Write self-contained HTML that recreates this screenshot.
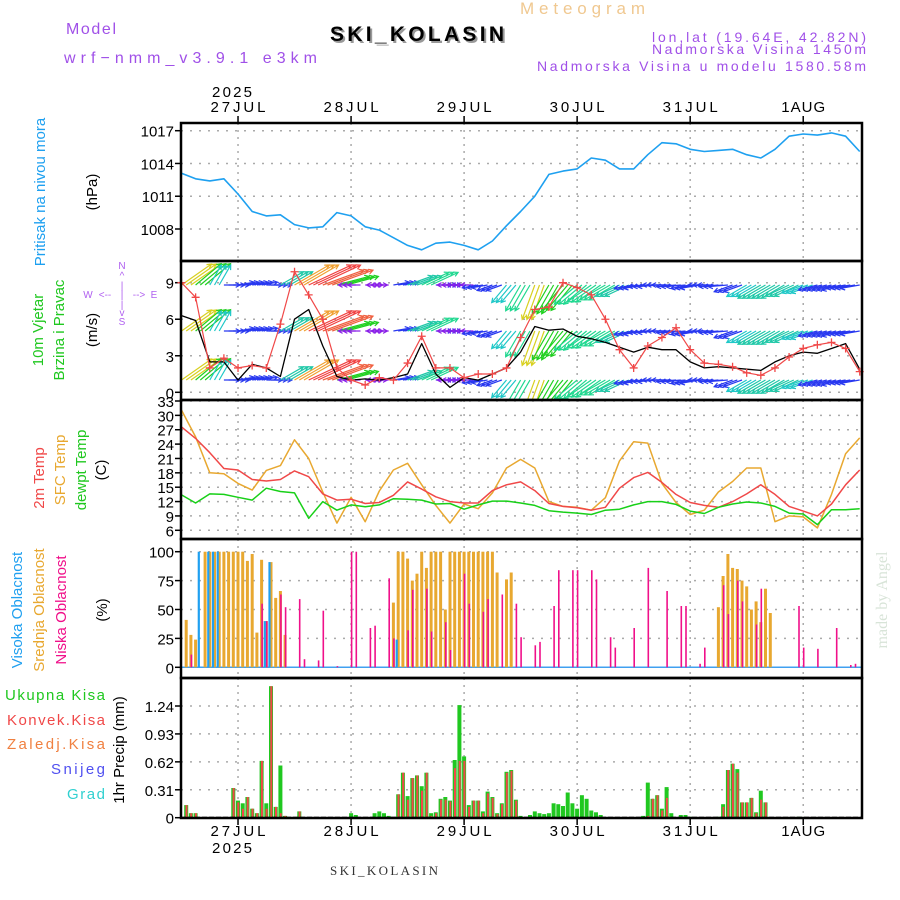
<!DOCTYPE html>
<html><head><meta charset="utf-8"><style>
html,body{margin:0;padding:0;background:#fff;}
svg{display:block;font-family:"Liberation Sans",sans-serif;}
</style></head><body>
<svg id="chart" width="900" height="900" viewBox="0 0 900 900" xmlns="http://www.w3.org/2000/svg">
<defs><clipPath id="windclip"><rect x="181" y="262" width="681" height="137"/></clipPath></defs>
<rect x="0" y="0" width="900" height="900" fill="#fff"/>
<text x="66" y="34" font-size="16" fill="#a050e8" textLength="50" lengthAdjust="spacing">Model</text>
<text x="64" y="63" font-size="16" fill="#a050e8" textLength="253" lengthAdjust="spacing">wrf−nmm_v3.9.1 e3km</text>
<text x="520" y="14" font-size="17" fill="#f0c890" textLength="125" lengthAdjust="spacing">Meteogram</text>
<text x="332" y="43" font-size="21" font-weight="bold" fill="#999" textLength="174" lengthAdjust="spacing">SKI_KOLASIN</text>
<text x="330" y="41" font-size="21" font-weight="bold" fill="#000" textLength="174" lengthAdjust="spacing">SKI_KOLASIN</text>
<text x="652" y="42" font-size="14" fill="#a050e8" textLength="214" lengthAdjust="spacing">lon,lat (19.64E, 42.82N)</text>
<text x="652" y="54" font-size="14" fill="#a050e8" textLength="214" lengthAdjust="spacing">Nadmorska Visina 1450m</text>
<text x="537" y="71" font-size="14" fill="#a050e8" textLength="329" lengthAdjust="spacing">Nadmorska Visina u modelu 1580.58m</text>
<text x="330" y="875" font-size="13" fill="#333" textLength="108" lengthAdjust="spacing" font-family="Liberation Serif, serif">SKI_KOLASIN</text>
<text transform="translate(887,600) rotate(-90)" font-size="16" fill="#d8e4d8" text-anchor="middle" font-family="Liberation Serif, serif">made by Angel</text>
<g id="layer"></g>
</svg>
<script>
// ---- data (3-hourly unless noted), hour 0 = 26JUL 12UTC ----
const dayLabels = ["27JUL","28JUL","29JUL","30JUL","31JUL","1AUG"];
const dayHours = [12,36,60,84,108,132];
const pressure = [1013.1,1012.6,1012.4,1012.6,1011.2,1009.6,1009.2,1009.3,1008.4,1008.1,1008.2,1009.5,1009.2,1008.2,1007.9,1007.2,1006.5,1006.1,1006.7,1006.8,1006.5,1006.1,1006.9,1008.3,1009.6,1011.0,1013.0,1013.3,1013.5,1014.5,1014.3,1013.5,1013.5,1014.8,1015.9,1015.8,1015.3,1015.1,1015.2,1015.3,1014.8,1014.5,1015.3,1016.5,1016.7,1016.6,1016.8,1016.5,1015.1];
const windSpeed = [6.3,5.9,2.5,2.5,1.0,2.3,2.0,1.3,6.0,6.8,3.8,1.3,1.0,1.1,1.0,1.2,1.5,4.0,1.5,0.4,1.2,1.0,1.5,2.0,3.3,5.4,5.1,5.2,4.6,4.4,4.1,3.7,3.3,3.7,3.5,3.5,2.5,2.0,2.1,2.0,1.9,1.8,2.5,3.0,3.3,3.2,3.6,4.0,1.9];
const windGust = [9.0,7.8,2.0,2.8,2.0,2.2,2.0,5.6,9.9,8.0,6.0,2.0,1.0,0.6,1.2,1.0,2.4,4.6,2.0,2.0,1.2,1.5,1.5,2.0,4.5,6.8,7.0,9.0,8.6,8.0,6.0,3.5,2.0,3.8,4.5,5.3,3.5,2.4,2.3,2.1,1.6,1.4,2.0,2.9,3.6,3.9,4.1,3.6,1.7];
const arrowDir = [35,40,60,0,10,10,0,30,30,25,20,15,180,0,180,10,20,25,0,180,180,190,200,230,240,250,240,230,220,215,210,205,190,185,180,185,190,180,185,200,210,210,210,205,200,195,195,190,190];
const arrowSpd = [9,8,5,3,3,3,3,6,10,12,11,8,2,2,2,3,6,7,3,2,2,3,3,5,7,9,8,8,7,7,7,6,4,4,4,4,4,3,4,4,5,6,6,6,5,4,4,4,4];
const temp2m = [27.6,25.2,22.2,18.9,18.6,16.6,16.3,16.6,18.4,17.2,13.6,12.3,12.5,11.6,11.8,13.3,16.1,14.6,13.0,12.0,11.7,11.7,14.3,15.5,16.1,14.3,11.6,11.0,10.7,10.2,10.8,14.8,17.0,18.1,16.0,13.5,11.8,11.2,10.8,12.0,13.6,15.5,13.5,11.0,10.0,9.0,11.5,15.5,18.6];
const tempSfc = [31.1,25.5,18.0,17.8,15.8,14.4,18.5,19.5,24.9,21.0,14.0,7.5,12.9,7.8,14.2,18.6,20.0,15.5,11.2,7.5,11.5,10.5,13.8,19.0,20.8,19.0,12.0,11.0,10.8,10.2,12.8,20.5,24.5,24.2,15.8,11.8,9.3,10.2,14.0,16.2,19.0,19.0,7.8,9.0,8.8,6.5,13.5,22.0,25.3];
const dewpoint = [13.4,11.7,13.6,13.5,12.9,12.3,14.8,14.1,13.8,8.5,12.0,10.2,11.3,10.9,11.3,12.6,12.5,12.3,11.5,11.6,10.4,11.3,12.1,12.1,11.7,11.2,10.1,9.8,9.6,9.3,10.2,10.4,11.3,12.0,12.0,11.4,10.0,9.5,10.8,11.5,11.9,11.7,11.0,9.6,9.4,7.2,10.3,10.3,10.5];
// cloud bars (hourly)
const midHours = [1,2,3,5,6,7,8,9,10,11,12,13,14,15,16,17,18,19,20,21,22,45,46,47,48,49,50,51,52,53,54,55,56,57,58,59,60,61,62,63,64,65,66,67,69,70,114,115,116,117,118,119,120,121,122,123,124,125];
const midValues = [41,28,24,100,100,100,100,100,100,100,100,100,92,98,30,93,40,91,60,66,28,56,100,100,94,75,81,100,86,100,100,100,50,100,100,100,100,100,100,100,100,100,100,82,76,82,52,79,98,86,85,75,70,50,57,39,68,47];
const highHours = [4,6,7,8,18,19,46];
const highValues = [100,100,100,100,40,91,24];
const lowHours = [2,17,18,21,22,25,26,29,30,33,36,37,40,41,44,45,48,49,52,53,56,57,60,61,64,65,68,71,72,75,76,79,80,83,84,87,88,91,92,96,99,103,106,107,110,111,115,116,118,119,122,123,131,132,135,139,142,143];
const lowValues = [11,55,40,63,52,59,7,6,49,1,100,100,34,36,77,25,32,67,68,31,39,15,81,55,48,59,63,55,26,19,22,53,84,84,84,84,76,26,17,34,86,66,53,53,3,17,71,46,75,57,37,68,53,17,16,34,2,3];
// precip (hourly)
const precipHours = [1,2,3,11,12,13,14,15,16,17,18,19,20,21,22,25,36,37,41,42,43,44,46,47,48,49,50,51,52,53,54,55,56,57,58,59,60,61,62,63,64,65,66,67,68,69,70,71,72,74,75,76,77,78,79,80,81,82,83,84,85,86,87,88,89,98,99,100,101,102,103,104,106,107,108,114,115,116,117,118,119,120,121,122,123,124,131];
const precipTotal = [0.14,0.05,0.05,0.33,0.19,0.16,0.23,0.10,0.05,0.63,0.16,1.46,0.12,0.58,0.02,0.07,0.05,0.03,0.05,0.07,0.05,0.02,0.26,0.50,0.24,0.44,0.47,0.35,0.50,0.05,0.06,0.21,0.23,0.19,0.64,1.25,0.68,0.14,0.19,0.19,0.07,0.29,0.23,0.05,0.16,0.51,0.53,0.20,0.02,0.03,0.07,0.05,0.04,0.05,0.16,0.15,0.13,0.28,0.16,0.10,0.25,0.21,0.08,0.06,0.03,0.02,0.39,0.21,0.25,0.10,0.34,0.05,0.03,0.03,0.01,0.01,0.15,0.53,0.60,0.54,0.17,0.17,0.22,0.06,0.30,0.17,0.01];
const precipConv = [0.14,0.05,0.05,0.33,0.17,0.10,0.23,0.10,0.05,0.63,0.10,1.46,0.12,0.05,0.02,0.07,0,0,0,0,0,0,0.26,0.50,0.20,0.44,0.47,0.30,0.50,0.02,0.05,0.20,0.20,0.18,0.55,0.63,0.63,0.12,0.19,0.19,0.05,0.27,0.22,0.04,0.15,0.50,0.52,0.19,0,0,0,0,0,0,0,0,0,0,0,0,0,0,0,0,0,0,0.02,0.21,0.25,0.08,0.22,0,0,0,0,0,0.12,0.53,0.60,0.50,0.17,0.17,0.22,0.05,0.20,0.17,0];
const pressureTicks = [1008,1011,1014,1017];
const windTicks = [0,3,6,9];
const tempTicks = [6,9,12,15,18,21,24,27,30,33];
const cloudTicks = [0,25,50,75,100];
const precipTicks = [0,0.31,0.62,0.93,1.24];

// ---- layout ----
const NS = "http://www.w3.org/2000/svg";
const layer = document.getElementById("layer");
const X0 = 181, X1 = 862;
function xS(h){ return 181.5 + h*4.71; }
function lin(v0,y0,v1,y1){ return v => y0 + (v-v0)*(y1-y0)/(v1-v0); }
const yP = lin(1008,229,1017,130.7);
const yW = lin(0,392.3,9,282.7);
const yT = lin(6,530.3,33,401);
const yC = lin(0,667.3,100,551.7);
const yR = lin(0,817.7,1.24,706);
const panels = [[123,261,"pressure"],[261,400,"wind"],[400,539,"temperature"],[539,678,"cloud"],[678,818,"precip"]];
function mk(tag, attrs, parent){ const e=document.createElementNS(NS,tag); for(const k in attrs) e.setAttribute(k,attrs[k]); (parent||layer).appendChild(e); return e; }
function hours3(n){ const a=[]; for(let i=0;i<n;i++) a.push(i*3); return a; }

panels.forEach(p=>{
  const g = mk("g",{});
  
  
  dayHours.forEach(h=>{
    const l = mk("line",{x1:xS(h),x2:xS(h),y1:p[0],y2:p[1],stroke:"#aaa","stroke-width":1.5,"stroke-dasharray":"2,5"},g);
    
    
  });
});
function hGrid(ticks, ys, fmt, name){
  ticks.forEach(t=>{
    const y = ys(t);
    const l = mk("line",{x1:X0,x2:X1,y1:y,y2:y,stroke:"#aaa","stroke-width":1.5,"stroke-dasharray":"2,7"});
    
    
    const tk = mk("line",{x1:X0-6,x2:X0,y1:y,y2:y,stroke:"#000","stroke-width":1.5});
    
    
    const tx = mk("text",{x:X0-7,y:y+6,"font-size":15,"text-anchor":"end",fill:"#000"});
    tx.textContent = fmt(t);
    
    
  });
}
hGrid(pressureTicks,yP,String,"pressure");
hGrid(windTicks,yW,String,"wind");
hGrid(tempTicks,yT,String,"temp");
hGrid(cloudTicks,yC,String,"cloud");
hGrid(precipTicks,yR,t=>String(t),"precip");

function line(vals, ys, color, name, w, parent){
  const hs = hours3(vals.length);
  const d = vals.map((v,i)=>(i?"L":"M")+xS(hs[i]).toFixed(1)+","+ys(v).toFixed(1)).join("");
  const p = mk("path",{d:d,fill:"none",stroke:color,"stroke-width":w||1.5,"stroke-linejoin":"round"},parent);
  
  
  return hs;
}
line(pressure,yP,"#1ea0f0","pressure-line",1.6);
const spdColors = ["#8a20e8","#8a20e8","#8a20e8","#2838f0","#2838f0","#20c8c8","#20c8a8","#20d890","#20d020","#d8d020","#f0a030","#f06040","#f04040"];
const rowBase = [285,331,380];
const ag = mk("g",{"clip-path":"url(#windclip)"});


for(let h=0; h<=144; h++){
  const i = Math.min(arrowDir.length-1, Math.floor(h/3));
  const a = arrowDir[i]*Math.PI/180, s = arrowSpd[i];
  const L = 6 + s*3.4;
  const col = spdColors[Math.min(12,s)];
  rowBase.forEach(yb=>{
    const x1 = xS(h), y1 = yb;
    const x2 = x1 + L*Math.cos(a), y2 = y1 - L*Math.sin(a);
    const hx1 = x2 - 5*Math.cos(a-0.5), hy1 = y2 + 5*Math.sin(a-0.5);
    const hx2 = x2 - 5*Math.cos(a+0.5), hy2 = y2 + 5*Math.sin(a+0.5);
    const ar = mk("path",{d:`M${x1.toFixed(1)},${y1}L${x2.toFixed(1)},${y2.toFixed(1)}M${hx1.toFixed(1)},${hy1.toFixed(1)}L${x2.toFixed(1)},${y2.toFixed(1)}L${hx2.toFixed(1)},${hy2.toFixed(1)}`,stroke:col,"stroke-width":1.2,fill:"none"},ag);
    
    
  });
}
line(windSpeed,yW,"#000","wind-speed-line",1.3);
const gh = line(windGust,yW,"#f04848","wind-gust-line",1.2);
windGust.forEach((v,i)=>{
  const x=xS(gh[i]), y=yW(v);
  const m = mk("path",{d:`M${x-4},${y}L${x+4},${y}M${x},${y-4}L${x},${y+4}`,stroke:"#f04848","stroke-width":1.3});
  
  
});
line(tempSfc,yT,"#e8a830","sfc-temp-line",1.5);
line(temp2m,yT,"#f04848","temp-2m-line",1.5);
line(dewpoint,yT,"#18d018","dewpoint-line",1.5);
function bars(hs, vals, ys, color, w, dx, name){
  hs.forEach((h,i)=>{
    const y = ys(vals[i]), y0 = ys(0);
    const r = mk("rect",{x:(xS(h)+dx-w/2).toFixed(1),y:y.toFixed(1),width:w,height:Math.max(0,y0-y).toFixed(1),fill:color});
    
    
  });
}
const cb = mk("line",{x1:X0,x2:X1,y1:yC(0),y2:yC(0),stroke:"#40a0f0","stroke-width":1.5});


bars(midHours,midValues,yC,"#e8a830",3,0,"mid-cloud-bar");
bars(highHours,highValues,yC,"#20a0f0",2.2,-1.5,"high-cloud-bar");
bars(lowHours,lowValues,yC,"#f0108a",1.6,0.5,"low-cloud-bar");
bars(precipHours,precipTotal,yR,"#20c820",4,0,"total-precip-bar");
bars(precipHours,precipConv,yR,"#f04848",2,0.3,"convective-precip-bar");
const pb = mk("line",{x1:X0,x2:X1,y1:yR(0),y2:yR(0),stroke:"#000","stroke-width":2,"stroke-dasharray":"5,2"});



panels.forEach(p=>{
  const r = mk("rect",{x:X0,y:p[0],width:X1-X0,height:p[1]-p[0],fill:"none",stroke:"#000","stroke-width":2.5});
  
  
});
dayLabels.forEach((d,i)=>{
  const x = xS(dayHours[i]);
  [[112,"top"],[836,"bottom"]].forEach(([y,pos])=>{
    const t = mk("text",{x:x,y:y,"font-size":15,"text-anchor":"middle",fill:"#000",textLength:d.length*11,lengthAdjust:"spacing"});
    t.textContent = d;
    
    
    const tk = mk("line",{x1:x,x2:x,y1:pos==="top"?116:818,y2:pos==="top"?123:825,stroke:"#000","stroke-width":1.5});
    
    
  });
});
[[97,"year-label-top"],[853,"year-label-bottom"]].forEach(([y,n])=>{
  const t = mk("text",{x:xS(12)-6,y:y,"font-size":15,"text-anchor":"middle",fill:"#000",textLength:40,lengthAdjust:"spacing"});
  t.textContent = "2025";
  
  
});
function vtext(x,y,txt,color,name,size){
  const t = mk("text",{transform:`translate(${x},${y}) rotate(-90)`,"font-size":size||15,"text-anchor":"middle",fill:color});
  t.textContent = txt;
  
  
}
vtext(45,192,"Pritisak na nivou mora","#1ea0f0","pressure-title");
vtext(97,192,"(hPa)","#000","pressure-unit");
vtext(43,330,"10m Vjetar","#20c820","wind-title-1");
vtext(64,330,"Brzina i Pravac","#20c820","wind-title-2");
vtext(97,330,"(m/s)","#000","wind-unit");
vtext(44,478,"2m Temp","#f04848","temp-2m-title");
vtext(65,470,"SFC Temp","#e8a830","temp-sfc-title");
vtext(86,470,"dewpt Temp","#20c820","dewpoint-title");
vtext(106,470,"(C)","#000","temp-unit");
vtext(22,610,"Visoka Oblacnost","#20a0f0","high-cloud-title");
vtext(44,610,"Srednja Oblacnost","#e8a830","mid-cloud-title");
vtext(66,610,"Niska Oblacnost","#f0108a","low-cloud-title");
vtext(107,610,"(%)","#000","cloud-unit");
vtext(124,750,"1hr Precip (mm)","#000","precip-title");
[["Ukupna Kisa","#20c820",700,100],["Konvek.Kisa","#f04848",725,98],["Zaledj.Kisa","#f08040",749,98],["Snijeg","#5050f0",774,54],["Grad","#30d0d0",799,38]].forEach(([s,c,y,w])=>{
  const t = mk("text",{x:105-w,y:y,"font-size":15,fill:c,textLength:w,lengthAdjust:"spacing"});
  t.textContent = s;
  
  
});
const comp = mk("g",{fill:"#b060f0","font-size":10,"text-anchor":"middle"});


[["N",122,269],["^",122,279],["|",122,289],["W",88,298],["<--",105,298],["|",122,298],["-->",139,298],["E",154,298],["|",122,308],["v",122,316],["S",122,325]].forEach(([s,x,y])=>{
  const t = mk("text",{x:x,y:y},comp);
  t.textContent = s;
  
  
});
</script>
</body></html>
